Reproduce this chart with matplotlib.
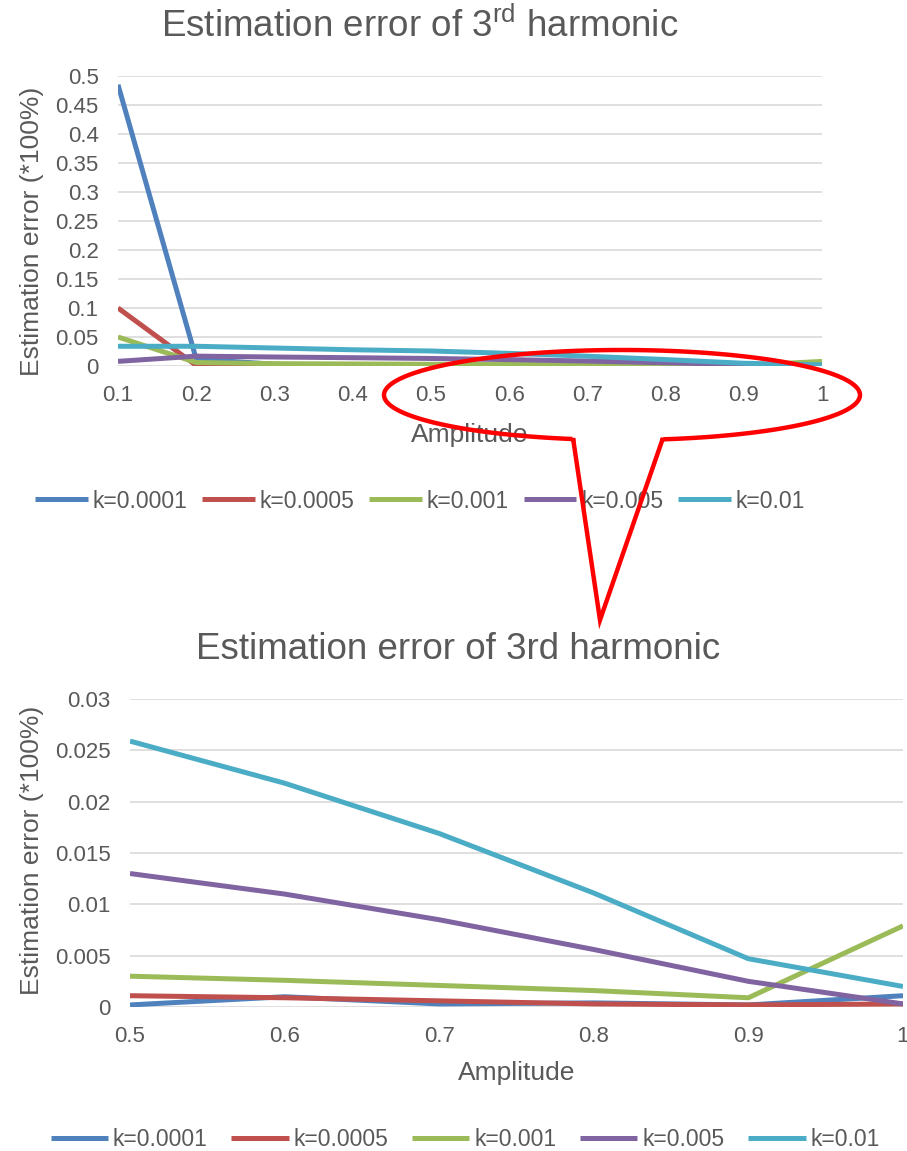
import matplotlib.pyplot as plt
from matplotlib.patches import Polygon
from matplotlib.transforms import Affine2D
import numpy as np

plt.rcParams['font.family'] = ['Liberation Sans', 'DejaVu Sans']
plt.rcParams['mathtext.fontset'] = 'custom'
plt.rcParams['mathtext.rm'] = 'Liberation Sans'

# data
amp = [0.1, 0.2, 0.3, 0.4, 0.5, 0.6, 0.7, 0.8, 0.9, 1.0]
k_labels = ['k=0.0001', 'k=0.0005', 'k=0.001', 'k=0.005', 'k=0.01']
err_k0001 = [0.485, 0.012, 0.003, 0.001, 0.0002, 0.0010, 0.0003, 0.0004, 0.0002, 0.0011]
err_k0005 = [0.100, 0.001, 0.0012, 0.0011, 0.0011, 0.0009, 0.0006, 0.0003, 0.0002, 0.0003]
err_k001 = [0.050, 0.006, 0.004, 0.0035, 0.0030, 0.0026, 0.0021, 0.0016, 0.0009, 0.0079]
err_k005 = [0.008, 0.017, 0.0155, 0.0143, 0.0130, 0.0110, 0.0085, 0.0056, 0.0025, 0.0003]
err_k01 = [0.034, 0.034, 0.031, 0.028, 0.0259, 0.0218, 0.0169, 0.0111, 0.0047, 0.0020]
series = [err_k0001, err_k0005, err_k001, err_k005, err_k01]
colors = ['#4F81BD', '#C0504D', '#9BBB59', '#8064A2', '#4BACC6']
gray = '#595959'

W, H = 907, 1151
fig = plt.figure(figsize=(W / 100, H / 100), dpi=100)


def px_axes(l, t, r, b):
    return fig.add_axes([l / W, 1 - b / H, (r - l) / W, (b - t) / H])


def style(ax):
    for s in ax.spines.values():
        s.set_visible(False)
    ax.grid(axis='y', color='#D9D9D9', lw=1.2)
    ax.set_axisbelow(True)
    ax.tick_params(length=0, labelsize=16, labelcolor=gray, pad=14)


# top chart: full range
ax1 = px_axes(118, 76, 822, 366)
for ys, c, lab in zip(series, colors, k_labels):
    ax1.plot(amp, ys, color=c, lw=3.6, label=lab, solid_capstyle='butt')
ax1.set_xlim(0.1, 1.0)
ax1.set_ylim(0, 0.5)
ax1.set_xticks(amp)
ax1.set_xticklabels(['0.1', '0.2', '0.3', '0.4', '0.5', '0.6', '0.7', '0.8', '0.9', '1'])
ax1.set_yticks(np.arange(0, 0.51, 0.05))
ax1.set_yticklabels(['0', '0.05', '0.1', '0.15', '0.2', '0.25', '0.3', '0.35', '0.4', '0.45', '0.5'])
style(ax1)

# bottom chart: zoom on 0.5 - 1
ax2 = px_axes(130, 699, 903, 1007)
for ys, c, lab in zip(series, colors, k_labels):
    ax2.plot(amp[4:], ys[4:], color=c, lw=3.6, label=lab, solid_capstyle='butt')
ax2.set_xlim(0.5, 1.0)
ax2.set_ylim(0, 0.03)
ax2.set_xticks(amp[4:])
ax2.set_xticklabels(['0.5', '0.6', '0.7', '0.8', '0.9', '1'])
ax2.set_yticks(np.arange(0, 0.0301, 0.005))
ax2.set_yticklabels(['0', '0.005', '0.01', '0.015', '0.02', '0.025', '0.03'])
style(ax2)

# titles and labels
fig.text(420 / W, 1 - 37 / H, 'Estimation error of 3$^{\\mathrm{rd}}$ harmonic',
         ha='center', va='baseline', fontsize=26.5, color=gray)
fig.text(458 / W, 1 - 659 / H, 'Estimation error of 3rd harmonic',
         ha='center', va='baseline', fontsize=26.5, color=gray)
fig.text(32 / W, 1 - 231 / H, 'Estimation error (*100%)', rotation=90,
         ha='center', va='center', fontsize=19, color=gray)
fig.text(32 / W, 1 - 850 / H, 'Estimation error (*100%)', rotation=90,
         ha='center', va='center', fontsize=19, color=gray)
fig.text(470 / W, 1 - 435 / H, 'Amplitude', ha='center', va='center', fontsize=19, color=gray)
fig.text(517 / W, 1 - 1073 / H, 'Amplitude', ha='center', va='center', fontsize=19, color=gray)

leg_kw = dict(ncol=5, frameon=False, fontsize=16.5, handlelength=2.3, handletextpad=0.2,
              columnspacing=0.65, labelcolor=gray)
fig.legend(*ax1.get_legend_handles_labels(), loc='center', bbox_to_anchor=(420 / W, 1 - 501 / H), **leg_kw)
leg_kw['columnspacing'] = 1.05
leg_kw['handlelength'] = 2.5
fig.legend(*ax2.get_legend_handles_labels(), loc='center', bbox_to_anchor=(465 / W, 1 - 1140 / H), **leg_kw)

# red callout: ellipse with tail, in pixel coords from top-left (y down)
cx, cy, a, b = 622, 395, 238, 45
t0 = np.arccos((573 - cx) / a)
t1 = np.arccos((663 - cx) / a)
t = np.linspace(t1, t0 - 2 * np.pi, 300)  # bottom-right, over the top, to bottom-left
pts = np.column_stack([cx + a * np.cos(t), cy + b * np.sin(t)])
pts = np.vstack([pts, [[573, 438], [600, 620], [663, 438]]])
tr = Affine2D().scale(1 / W, -1 / H).translate(0, 1) + fig.transFigure
fig.patches.append(Polygon(pts, closed=True, fill=False, edgecolor='red', lw=3.2,
                           transform=tr, joinstyle='miter', zorder=10))

fig.savefig('out.png', dpi=100)
